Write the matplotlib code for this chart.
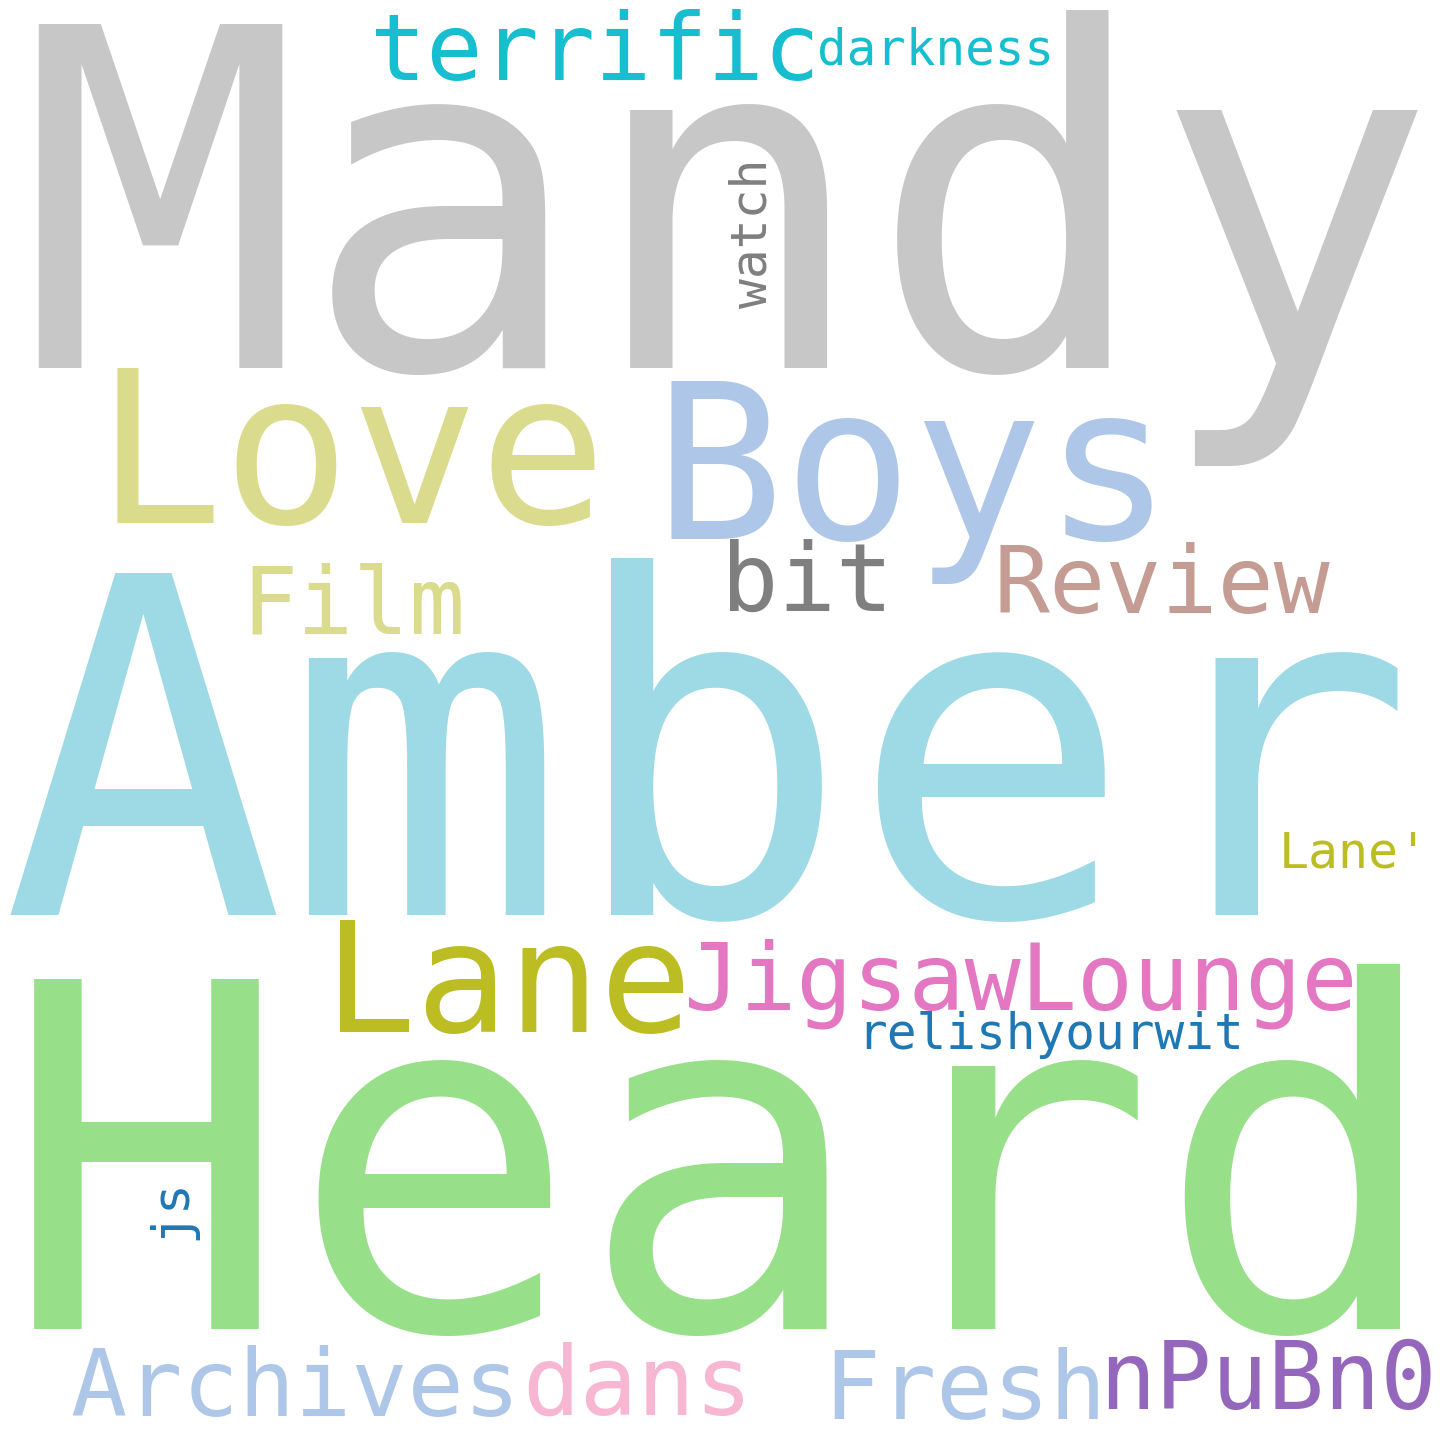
import matplotlib
matplotlib.use("Agg")
import matplotlib.pyplot as plt
from matplotlib.textpath import TextPath
from matplotlib.font_manager import FontProperties

# ---- data ----
words = ["Mandy", "Amber", "Heard", "Boys", "Love", "Lane", "JigsawLounge",
         "terrific", "Review", "Archives", "Fresh", "nPuBn0", "bit", "Film",
         "dans", "relishyourwit", "darkness", "watch", "Lane'", "js"]
colors = ["#c7c7c7", "#9edae5", "#98df8a", "#aec7e8", "#dbdb8d", "#bcbd22", "#e377c2",
          "#17becf", "#c49c94", "#aec7e8", "#aec7e8", "#9467bd", "#7f7f7f", "#dbdb8d",
          "#f7b6d2", "#1f77b4", "#17becf", "#7f7f7f", "#bcbd22", "#1f77b4"]
# ---- layout (ink boxes in pixels: left, right, top, bottom) ----
box_left = [38, 10, 34, 671, 117, 340, 689, 376, 1000, 72, 834, 1108, 730, 252, 528, 866, 820, 729, 1284, 146]
box_right = [1418, 1398, 1401, 1152, 595, 683, 1352, 812, 1330, 511, 1098, 1431, 884, 461, 743, 1239, 1049, 767, 1416, 196]
box_top = [0, 558, 966, 380, 369, 921, 940, 9, 543, 1345, 1347, 1339, 539, 562, 1342, 1014, 27, 163, 832, 1183]
box_bottom = [475, 921, 1334, 585, 525, 1033, 1029, 82, 613, 1418, 1420, 1410, 612, 634, 1416, 1057, 66, 308, 868, 1235]
rotated = [w in ("watch", "js") for w in words]

W = H = 1440
DPI = 100
fig = plt.figure(figsize=(W / DPI, H / DPI), dpi=DPI)
ax = fig.add_axes([0, 0, 1, 1])
ax.set_xlim(0, W)
ax.set_ylim(H, 0)
ax.axis("off")
fig.patch.set_facecolor("white")

fp = FontProperties(family="DejaVu Sans Mono")

for w, c, l, r, t, b, rot in zip(words, colors, box_left, box_right, box_top, box_bottom, rotated):
    ext = TextPath((0, 0), w, size=100, prop=fp).get_extents()
    length = (b - t) if rot else (r - l)
    s = length / ext.width          # px per unit at size=100
    size_px = 100 * s
    uc = (ext.x0 + ext.x1) / 2
    vc = (ext.y0 + ext.y1) / 2
    cx = (l + r) / 2
    cy = (t + b) / 2
    if rot:
        axx = cx + vc * s
        ayy = cy + uc * s
        angle = 90
    else:
        axx = cx - uc * s
        ayy = cy + vc * s
        angle = 0
    ax.text(axx, ayy, w, fontproperties=fp, fontsize=size_px * 72 / DPI,
            color=c, ha="left", va="baseline", rotation=angle,
            rotation_mode="anchor")

fig.savefig("out.png", dpi=DPI, facecolor="white")
